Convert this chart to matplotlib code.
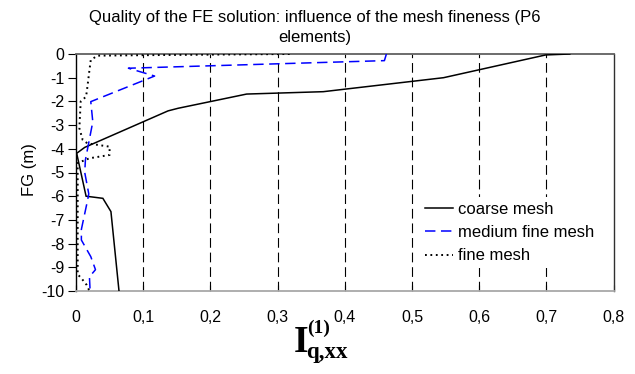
import matplotlib
matplotlib.use("Agg")
import matplotlib.pyplot as plt

plt.rcParams['font.family'] = ['Liberation Sans', 'DejaVu Sans']
plt.rcParams['lines.scale_dashes'] = False

# ---- data ----
coarse_x = [0.735, 0.699, 0.547, 0.368, 0.254, 0.152, 0.137, 0.013, 0.001, 0.015, 0.040, 0.052, 0.064]
coarse_y = [0.0, -0.04, -1.0, -1.59, -1.69, -2.29, -2.4, -3.94, -4.19, -6.0, -6.09, -6.65, -10.0]

medium_x = [0.462, 0.459, 0.078, 0.117, 0.022, 0.025, 0.014, 0.013, 0.019, 0.017, 0.008, 0.008, 0.022, 0.029, 0.020, 0.021]
medium_y = [0.0, -0.28, -0.60, -0.93, -2.01, -2.86, -4.47, -5.0, -5.9, -6.2, -7.4, -7.85, -8.55, -9.1, -9.4, -10.0]

fine_x = [0.318, 0.10, 0.032, 0.022, 0.020, 0.017, 0.015, 0.007, 0.005, 0.010, 0.017, 0.050, 0.050, 0.020, 0.0025, 0.0025, 0.008, 0.016, 0.020]
fine_y = [0.0, -0.05, -0.07, -0.25, -0.68, -1.38, -1.8, -2.0, -3.13, -3.63, -3.77, -3.91, -4.26, -4.4, -4.6, -9.3, -9.46, -9.75, -10.0]

series_labels = ['coarse mesh', 'medium fine mesh', 'fine mesh']

x_ticks = [0, 0.1, 0.2, 0.3, 0.4, 0.5, 0.6, 0.7, 0.8]
x_tick_labels = ['0', '0,1', '0,2', '0,3', '0,4', '0,5', '0,6', '0,7', '0,8']
y_ticks = [0, -1, -2, -3, -4, -5, -6, -7, -8, -9, -10]
y_tick_labels = ['0', '-1', '-2', '-3', '-4', '-5', '-6', '-7', '-8', '-9', '-10']

title_text = 'Quality of the FE solution: influence of the mesh fineness (P6\nelements)'
y_label = 'FG (m)'

W, H = 635, 374
fig = plt.figure(figsize=(W / 100, H / 100), dpi=100)
ax = fig.add_axes([76 / W, 1 - 291 / H, (613.5 - 76) / W, (291 - 54) / H])

# grid lines (vertical dashed)
for xv in x_ticks[1:-1]:
    ax.axvline(xv, color='black', lw=0.8, linestyle=(0, (7, 3.5)), zorder=1)

ax.plot(coarse_x, coarse_y, color='black', lw=1.1, solid_joinstyle='miter', zorder=3, label=series_labels[0])
ax.plot(medium_x, medium_y, color='#0000FF', lw=1.1, linestyle=(0, (7.5, 4)), zorder=3, label=series_labels[1])
ax.plot(fine_x, fine_y, color='black', lw=1.4, linestyle=(0, (1.3, 2.6)), zorder=3, label=series_labels[2])

ax.set_xlim(0, 0.8)
ax.set_ylim(-10, 0)
ax.set_xticks(x_ticks)
ax.set_xticklabels(x_tick_labels)
ax.set_yticks(y_ticks)
ax.set_yticklabels(y_tick_labels)

ax.tick_params(axis='x', direction='in', length=4, width=0.8, pad=14, labelsize=11.5, colors='black')
ax.tick_params(axis='y', direction='out', length=5.5, width=0.8, pad=3, labelsize=11.5, colors='black')

ax.spines['left'].set_color('black')
ax.spines['left'].set_linewidth(1.0)
ax.spines['top'].set_color('#606060')
ax.spines['top'].set_linewidth(1.3)
ax.spines['bottom'].set_color('#a8a8a8')
ax.spines['bottom'].set_linewidth(1.3)
ax.spines['right'].set_color('#303030')
ax.spines['right'].set_linewidth(1.0)

ax.set_ylabel(y_label, fontsize=12)
ax.yaxis.set_label_coords(-(76 - 37) / 537.5, 1 - (170 - 54) / 237)

leg = ax.legend(loc='upper left', bbox_to_anchor=(0.640, 0.396), borderaxespad=0,
                fontsize=12, frameon=True, facecolor='white', edgecolor='none', framealpha=1,
                handlelength=1.65, handletextpad=0.3, labelspacing=0.49, borderpad=0.3, fancybox=False)
leg.set_zorder(5)

fig.text(0.496, 1 - 10 / H, title_text, ha='center', va='top', fontsize=12, linespacing=1.4)

# x axis label: bold serif I with superscript and subscript
serif = ['Liberation Serif', 'DejaVu Serif']
fig.text(294 / W, 1 - 352 / H, 'I', family=serif, fontweight='bold', fontsize=27, ha='left', va='baseline')
fig.text(307 / W, 1 - 333 / H, '(1)', family=serif, fontweight='bold', fontsize=14, ha='left', va='baseline')
fig.text(306 / W, 1 - 358 / H, 'q,xx', family=serif, fontweight='bold', fontsize=16.5, ha='left', va='baseline')

fig.savefig('out.png', dpi=100)
